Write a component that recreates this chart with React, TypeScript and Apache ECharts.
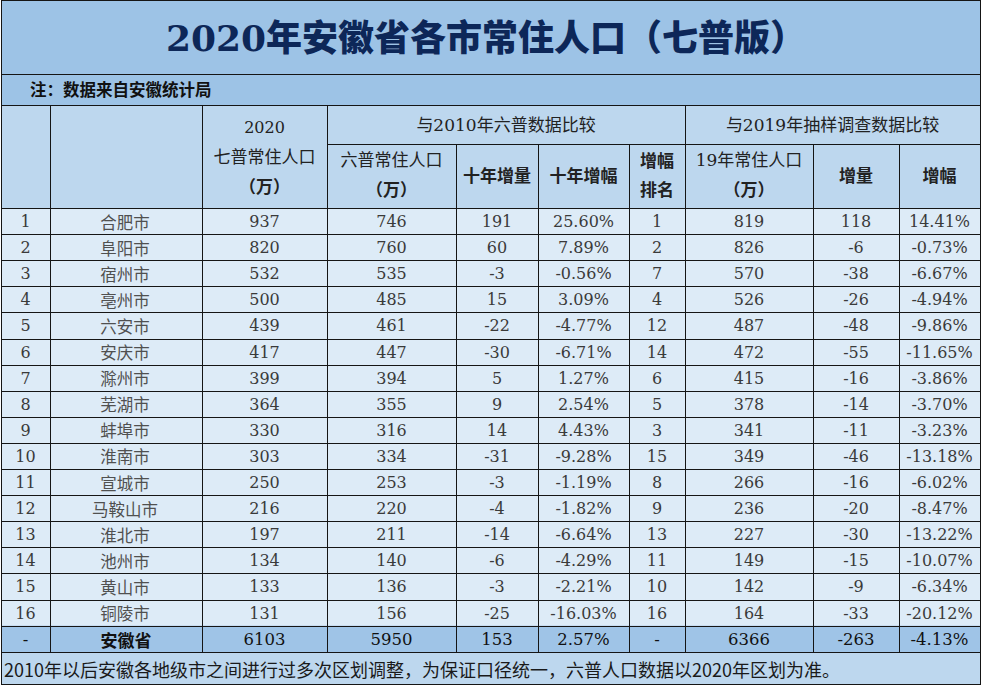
import React, { useEffect, useRef } from "react";
import * as echarts from "echarts";

const titleText = "2020年安徽省各市常住人口（七普版）";
const noteText = "注：数据来自安徽统计局";
const footerText = "2010年以后安徽各地级市之间进行过多次区划调整，为保证口径统一，六普人口数据以2020年区划为准。";

const rowIndex = ["1", "2", "3", "4", "5", "6", "7", "8", "9", "10", "11", "12", "13", "14", "15", "16"];
const cities = ["合肥市", "阜阳市", "宿州市", "亳州市", "六安市", "安庆市", "滁州市", "芜湖市", "蚌埠市", "淮南市", "宣城市", "马鞍山市", "淮北市", "池州市", "黄山市", "铜陵市"];
const pop2020 = [937, 820, 532, 500, 439, 417, 399, 364, 330, 303, 250, 216, 197, 134, 133, 131];
const pop2010 = [746, 760, 535, 485, 461, 447, 394, 355, 316, 334, 253, 220, 211, 140, 136, 156];
const diff10 = [191, 60, -3, 15, -22, -30, 5, 9, 14, -31, -3, -4, -14, -6, -3, -25];
const pct10 = ["25.60%", "7.89%", "-0.56%", "3.09%", "-4.77%", "-6.71%", "1.27%", "2.54%", "4.43%", "-9.28%", "-1.19%", "-1.82%", "-6.64%", "-4.29%", "-2.21%", "-16.03%"];
const rank10 = [1, 2, 7, 4, 12, 14, 6, 5, 3, 15, 8, 9, 13, 11, 10, 16];
const pop2019 = [819, 826, 570, 526, 487, 472, 415, 378, 341, 349, 266, 236, 227, 149, 142, 164];
const diff19 = [118, -6, -38, -26, -48, -55, -16, -14, -11, -46, -16, -20, -30, -15, -9, -33];
const pct19 = ["14.41%", "-0.73%", "-6.67%", "-4.94%", "-9.86%", "-11.65%", "-3.86%", "-3.70%", "-3.23%", "-13.18%", "-6.02%", "-8.47%", "-13.22%", "-10.07%", "-6.34%", "-20.12%"];
const totalRow = ["-", "安徽省", "6103", "5950", "153", "2.57%", "-", "6366", "-263", "-4.13%"];

const colX = [1, 50, 202, 327, 456, 538, 629, 685, 813, 899, 980];
const SERIF = "'DejaVu Serif','Noto Sans CJK SC'";
const SANS = "'Noto Sans CJK SC','Noto Sans',sans-serif";
const LINE = "#151515";

function crisp(v: number) {
  return Math.round(v) + 0.5;
}

function txt(x: number, y: number, text: string, size: number, opts: any = {}) {
  return {
    type: "text",
    x,
    y,
    silent: true,
    style: {
      text,
      align: opts.align || "center",
      textAlign: opts.align || "center",
      verticalAlign: "middle",
      textVerticalAlign: "middle",
      fontSize: size,
      fontFamily: opts.family || SERIF,
      fontWeight: opts.weight || "normal",
      fill: opts.fill || "#3a3a3a",
    },
  };
}

function hline(x1: number, x2: number, y: number, w = 1) {
  return { type: "line", silent: true, shape: { x1, y1: crisp(y), x2, y2: crisp(y) }, style: { stroke: LINE, lineWidth: w } };
}
function vline(x: number, y1: number, y2: number, w = 1) {
  return { type: "line", silent: true, shape: { x1: crisp(x), y1, x2: crisp(x), y2 }, style: { stroke: LINE, lineWidth: w } };
}
function rect(x: number, y: number, w: number, h: number, fill: string) {
  return { type: "rect", silent: true, shape: { x, y, width: w, height: h }, style: { fill } };
}

function buildElements() {
  const els: any[] = [];
  const L = colX[0];
  const R = colX[colX.length - 1];
  const yTitleEnd = 74;
  const yNoteEnd = 105;
  const ySub = 144;
  const yHeadEnd = 208;
  const rowH = 26.1;
  const n = cities.length;
  const rowTop = (i: number) => yHeadEnd + i * rowH;
  const yTotalTop = rowTop(n);
  const yTotalEnd = 652;
  const yBottom = 684;

  // backgrounds
  els.push(rect(L, 0, R - L, yNoteEnd, "#9dc3e6"));
  els.push(rect(L, yNoteEnd, R - L, yHeadEnd - yNoteEnd, "#bdd7ee"));
  els.push(rect(L, yHeadEnd, R - L, yTotalTop - yHeadEnd, "#ddebf7"));
  els.push(rect(L, yTotalTop, R - L, yTotalEnd - yTotalTop, "#9fc4e7"));
  els.push(rect(L, yTotalEnd, R - L, yBottom - yTotalEnd, "#bdd7ee"));

  // horizontal lines
  els.push(hline(L, R + 1, 0));
  els.push(hline(L, R + 1, yTitleEnd));
  els.push(hline(L, R + 1, yNoteEnd));
  els.push(hline(colX[3], R + 1, ySub));
  for (let i = 0; i <= n; i++) els.push(hline(L, R + 1, rowTop(i)));
  els.push(hline(L, R + 1, yTotalEnd));
  els.push(hline(L, R + 1, yBottom));

  // vertical lines
  els.push(vline(L, 0, yBottom + 1));
  els.push(vline(R, 0, yBottom + 1));
  colX.slice(1, -1).forEach((x, k) => {
    const ci = k + 1;
    const fullHeader = ci === 1 || ci === 2 || ci === 3 || ci === 7;
    els.push(vline(x, crisp(fullHeader ? yNoteEnd : ySub), crisp(yTotalEnd)));
  });

  // title and note
  els.push(txt(486, 38, titleText, 36, { weight: 900, fill: "#0d2758", family: SERIF }));
  els.push(txt(30, 89, noteText, 16.5, { align: "left", weight: "bold", fill: "#111", family: SANS }));

  const cx = (a: number, b: number) => (colX[a] + colX[b]) / 2;
  const hc = "#222";
  // headers
  els.push(txt(cx(2, 3), 127, "2020", 16, { fill: hc }));
  els.push(txt(cx(2, 3), 157, "七普常住人口", 17, { fill: hc }));
  els.push(txt(cx(2, 3), 187, "（万）", 17, { fill: hc, weight: "bold" }));
  els.push(txt(cx(3, 7), 125, "与2010年六普数据比较", 17, { fill: hc }));
  els.push(txt(cx(7, 10), 125, "与2019年抽样调查数据比较", 17, { fill: hc }));
  els.push(txt(cx(3, 4), 160, "六普常住人口", 17, { fill: hc }));
  els.push(txt(cx(3, 4), 190, "（万）", 17, { fill: hc, weight: "bold" }));
  els.push(txt(cx(4, 5), 176, "十年增量", 17, { fill: hc, weight: "bold" }));
  els.push(txt(cx(5, 6), 176, "十年增幅", 17, { fill: hc, weight: "bold" }));
  els.push(txt(cx(6, 7), 161, "增幅", 17, { fill: hc, weight: "bold" }));
  els.push(txt(cx(6, 7), 190, "排名", 17, { fill: hc, weight: "bold" }));
  els.push(txt(cx(7, 8), 160, "19年常住人口", 17, { fill: hc }));
  els.push(txt(cx(7, 8), 190, "（万）", 17, { fill: hc, weight: "bold" }));
  els.push(txt(cx(8, 9), 176, "增量", 17, { fill: hc, weight: "bold" }));
  els.push(txt(cx(9, 10), 176, "增幅", 17, { fill: hc, weight: "bold" }));

  // data rows
  for (let i = 0; i < n; i++) {
    const y = rowTop(i) + rowH / 2 + 0.5;
    const vals = [
      rowIndex[i],
      cities[i],
      String(pop2020[i]),
      String(pop2010[i]),
      String(diff10[i]),
      pct10[i],
      String(rank10[i]),
      String(pop2019[i]),
      String(diff19[i]),
      pct19[i],
    ];
    vals.forEach((v, c) => {
      const isCity = c === 1;
      els.push(txt(cx(c, c + 1) - (isCity ? 1 : 0), y, v, isCity ? 16.5 : 16, { fill: isCity ? "#505050" : "#3a3a3a", family: isCity ? SANS : SERIF }));
    });
  }
  // total row
  const ty = (yTotalTop + yTotalEnd) / 2 + 0.5;
  totalRow.forEach((v, c) => {
    const isName = c === 1;
    els.push(txt(cx(c, c + 1), ty, v, isName ? 17 : 16.5, { fill: "#111", weight: isName ? "bold" : "normal", family: isName ? SANS : SERIF }));
  });

  // footer
  els.push(txt(4, (yTotalEnd + yBottom) / 2 + 1, footerText, 18, { align: "left", fill: "#1a1a1a", family: SANS }));

  return els;
}

export default function App() {
  const ref = useRef<HTMLDivElement>(null);
  useEffect(() => {
    document.body.style.margin = "0";
    if (!ref.current) return;
    const chart = echarts.init(ref.current, undefined, { renderer: "svg" });
    chart.setOption({
      animation: false,
      backgroundColor: "#ffffff",
      graphic: { elements: buildElements() },
    });
    return () => chart.dispose();
  }, []);
  return <div ref={ref} style={{ position: "absolute", left: 0, top: 0, width: 982, height: 686 }} />;
}
